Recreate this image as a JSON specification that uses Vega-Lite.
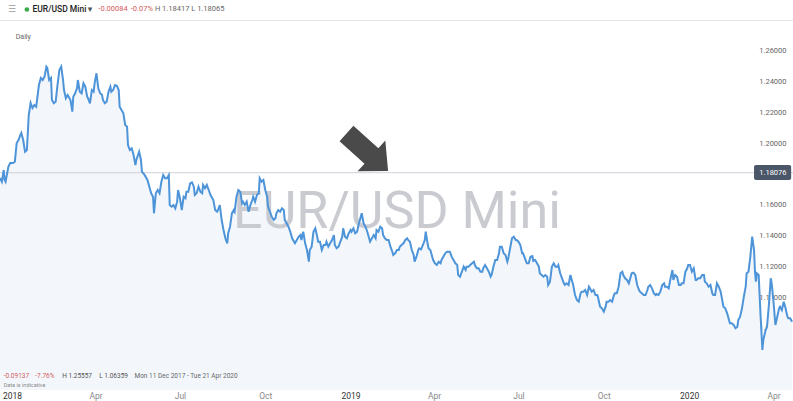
{
"$schema": "https://vega.github.io/schema/vega-lite/v6.json",
"width": 793, "height": 368,
"autosize": {"type": "none"},
"padding": {"top": 22, "bottom": 11, "left": 0, "right": 0},
"background": "#ffffff",
"config": {"view": {"stroke": null}, "font": "Roboto"},
"datasets": {"px": [
{"d":"2017-12-19","v":1.17734},{"d":"2017-12-21","v":1.17493},{"d":"2017-12-23","v":1.18253},{"d":"2017-12-24","v":1.17604},{"d":"2017-12-25","v":1.17493},{"d":"2017-12-28","v":1.18467},{"d":"2017-12-30","v":1.18708},{"d":"2018-01-02","v":1.18708},{"d":"2018-01-04","v":1.18792},{"d":"2018-01-06","v":1.20006},{"d":"2018-01-08","v":1.20201},{"d":"2018-01-10","v":1.20526},{"d":"2018-01-11","v":1.20656},{"d":"2018-01-13","v":1.20201},{"d":"2018-01-15","v":1.19441},{"d":"2018-01-17","v":1.19552},{"d":"2018-01-19","v":1.21824},{"d":"2018-01-21","v":1.22604},{"d":"2018-01-23","v":1.22279},{"d":"2018-01-25","v":1.22474},{"d":"2018-01-27","v":1.22363},{"d":"2018-01-28","v":1.22799},{"d":"2018-01-30","v":1.23772},{"d":"2018-02-01","v":1.24227},{"d":"2018-02-03","v":1.24097},{"d":"2018-02-05","v":1.24311},{"d":"2018-02-07","v":1.24961},{"d":"2018-02-08","v":1.24876},{"d":"2018-02-10","v":1.24097},{"d":"2018-02-12","v":1.24227},{"d":"2018-02-13","v":1.22799},{"d":"2018-02-15","v":1.22584},{"d":"2018-02-17","v":1.22688},{"d":"2018-02-19","v":1.23772},{"d":"2018-02-21","v":1.24747},{"d":"2018-02-23","v":1.24961},{"d":"2018-02-25","v":1.24097},{"d":"2018-02-26","v":1.23448},{"d":"2018-02-28","v":1.22909},{"d":"2018-03-02","v":1.23123},{"d":"2018-03-03","v":1.23013},{"d":"2018-03-05","v":1.22799},{"d":"2018-03-07","v":1.22039},{"d":"2018-03-08","v":1.23013},{"d":"2018-03-10","v":1.23234},{"d":"2018-03-12","v":1.23558},{"d":"2018-03-13","v":1.24097},{"d":"2018-03-15","v":1.23337},{"d":"2018-03-17","v":1.23234},{"d":"2018-03-19","v":1.23883},{"d":"2018-03-21","v":1.23662},{"d":"2018-03-23","v":1.23013},{"d":"2018-03-24","v":1.22909},{"d":"2018-03-26","v":1.22584},{"d":"2018-03-28","v":1.23448},{"d":"2018-03-30","v":1.23337},{"d":"2018-03-31","v":1.23883},{"d":"2018-04-02","v":1.24532},{"d":"2018-04-04","v":1.23558},{"d":"2018-04-06","v":1.23234},{"d":"2018-04-08","v":1.23123},{"d":"2018-04-09","v":1.22799},{"d":"2018-04-11","v":1.22584},{"d":"2018-04-13","v":1.22688},{"d":"2018-04-15","v":1.23337},{"d":"2018-04-17","v":1.23662},{"d":"2018-04-18","v":1.23337},{"d":"2018-04-20","v":1.23448},{"d":"2018-04-22","v":1.23772},{"d":"2018-04-24","v":1.23727},{"d":"2018-04-26","v":1.23448},{"d":"2018-04-27","v":1.22363},{"d":"2018-04-29","v":1.22149},{"d":"2018-05-01","v":1.21935},{"d":"2018-05-03","v":1.21175},{"d":"2018-05-05","v":1.21065},{"d":"2018-05-06","v":1.19876},{"d":"2018-05-08","v":1.19552},{"d":"2018-05-10","v":1.19662},{"d":"2018-05-12","v":1.19227},{"d":"2018-05-14","v":1.18578},{"d":"2018-05-15","v":1.18902},{"d":"2018-05-18","v":1.19441},{"d":"2018-05-20","v":1.18902},{"d":"2018-05-21","v":1.18143},{"d":"2018-05-24","v":1.17928},{"d":"2018-05-25","v":1.17818},{"d":"2018-05-27","v":1.17604},{"d":"2018-05-29","v":1.17169},{"d":"2018-05-31","v":1.1674},{"d":"2018-06-02","v":1.16519},{"d":"2018-06-03","v":1.15441},{"d":"2018-06-05","v":1.1674},{"d":"2018-06-07","v":1.16954},{"d":"2018-06-09","v":1.1674},{"d":"2018-06-11","v":1.17493},{"d":"2018-06-13","v":1.17928},{"d":"2018-06-15","v":1.17714},{"d":"2018-06-17","v":1.17714},{"d":"2018-06-19","v":1.17928},{"d":"2018-06-20","v":1.1598},{"d":"2018-06-22","v":1.1587},{"d":"2018-06-24","v":1.1598},{"d":"2018-06-26","v":1.15766},{"d":"2018-06-28","v":1.16195},{"d":"2018-06-29","v":1.16954},{"d":"2018-07-01","v":1.16415},{"d":"2018-07-03","v":1.15656},{"d":"2018-07-05","v":1.16519},{"d":"2018-07-07","v":1.16415},{"d":"2018-07-08","v":1.16844},{"d":"2018-07-10","v":1.16844},{"d":"2018-07-12","v":1.17389},{"d":"2018-07-14","v":1.17454},{"d":"2018-07-16","v":1.17169},{"d":"2018-07-17","v":1.1663},{"d":"2018-07-19","v":1.1674},{"d":"2018-07-21","v":1.17169},{"d":"2018-07-23","v":1.16844},{"d":"2018-07-25","v":1.1674},{"d":"2018-07-26","v":1.17279},{"d":"2018-07-28","v":1.17065},{"d":"2018-07-30","v":1.17279},{"d":"2018-08-01","v":1.16954},{"d":"2018-08-03","v":1.1663},{"d":"2018-08-04","v":1.16519},{"d":"2018-08-06","v":1.16305},{"d":"2018-08-08","v":1.15656},{"d":"2018-08-10","v":1.15545},{"d":"2018-08-11","v":1.15656},{"d":"2018-08-13","v":1.1598},{"d":"2018-08-15","v":1.15006},{"d":"2018-08-17","v":1.14357},{"d":"2018-08-19","v":1.13818},{"d":"2018-08-21","v":1.13493},{"d":"2018-08-22","v":1.14143},{"d":"2018-08-24","v":1.14571},{"d":"2018-08-26","v":1.15441},{"d":"2018-08-28","v":1.15656},{"d":"2018-08-29","v":1.15545},{"d":"2018-08-31","v":1.16519},{"d":"2018-09-02","v":1.16954},{"d":"2018-09-04","v":1.16844},{"d":"2018-09-06","v":1.16091},{"d":"2018-09-07","v":1.16195},{"d":"2018-09-09","v":1.1598},{"d":"2018-09-11","v":1.16195},{"d":"2018-09-13","v":1.15545},{"d":"2018-09-15","v":1.1598},{"d":"2018-09-17","v":1.16305},{"d":"2018-09-18","v":1.16519},{"d":"2018-09-20","v":1.16195},{"d":"2018-09-22","v":1.1663},{"d":"2018-09-24","v":1.1674},{"d":"2018-09-25","v":1.17714},{"d":"2018-09-27","v":1.17493},{"d":"2018-09-29","v":1.17604},{"d":"2018-10-01","v":1.16954},{"d":"2018-10-03","v":1.16519},{"d":"2018-10-04","v":1.1587},{"d":"2018-10-06","v":1.15545},{"d":"2018-10-08","v":1.15221},{"d":"2018-10-10","v":1.15006},{"d":"2018-10-12","v":1.15117},{"d":"2018-10-13","v":1.15441},{"d":"2018-10-15","v":1.15656},{"d":"2018-10-17","v":1.15545},{"d":"2018-10-19","v":1.15766},{"d":"2018-10-21","v":1.15656},{"d":"2018-10-22","v":1.15006},{"d":"2018-10-24","v":1.14792},{"d":"2018-10-26","v":1.14571},{"d":"2018-10-28","v":1.14247},{"d":"2018-10-30","v":1.13818},{"d":"2018-10-31","v":1.13708},{"d":"2018-11-02","v":1.13493},{"d":"2018-11-04","v":1.13708},{"d":"2018-11-06","v":1.13922},{"d":"2018-11-08","v":1.14032},{"d":"2018-11-09","v":1.13708},{"d":"2018-11-11","v":1.14247},{"d":"2018-11-13","v":1.13493},{"d":"2018-11-15","v":1.13058},{"d":"2018-11-17","v":1.12298},{"d":"2018-11-18","v":1.13058},{"d":"2018-11-20","v":1.13273},{"d":"2018-11-22","v":1.14247},{"d":"2018-11-24","v":1.14467},{"d":"2018-11-26","v":1.13922},{"d":"2018-11-27","v":1.13597},{"d":"2018-11-29","v":1.13597},{"d":"2018-12-01","v":1.13058},{"d":"2018-12-03","v":1.13383},{"d":"2018-12-05","v":1.13383},{"d":"2018-12-06","v":1.13597},{"d":"2018-12-08","v":1.13273},{"d":"2018-12-10","v":1.13493},{"d":"2018-12-12","v":1.13708},{"d":"2018-12-14","v":1.14032},{"d":"2018-12-15","v":1.13383},{"d":"2018-12-17","v":1.13168},{"d":"2018-12-19","v":1.13273},{"d":"2018-12-21","v":1.13597},{"d":"2018-12-23","v":1.13922},{"d":"2018-12-24","v":1.14467},{"d":"2018-12-26","v":1.13922},{"d":"2018-12-28","v":1.13818},{"d":"2018-12-30","v":1.14143},{"d":"2019-01-01","v":1.14357},{"d":"2019-01-02","v":1.14247},{"d":"2019-01-04","v":1.14467},{"d":"2019-01-06","v":1.14143},{"d":"2019-01-08","v":1.14247},{"d":"2019-01-10","v":1.14792},{"d":"2019-01-11","v":1.15006},{"d":"2019-01-13","v":1.15441},{"d":"2019-01-15","v":1.14792},{"d":"2019-01-17","v":1.14571},{"d":"2019-01-19","v":1.14247},{"d":"2019-01-20","v":1.14032},{"d":"2019-01-22","v":1.13597},{"d":"2019-01-24","v":1.13818},{"d":"2019-01-26","v":1.14032},{"d":"2019-01-28","v":1.13818},{"d":"2019-01-29","v":1.14357},{"d":"2019-01-31","v":1.14247},{"d":"2019-02-02","v":1.14571},{"d":"2019-02-04","v":1.14467},{"d":"2019-02-05","v":1.14032},{"d":"2019-02-07","v":1.13818},{"d":"2019-02-09","v":1.13708},{"d":"2019-02-11","v":1.13708},{"d":"2019-02-13","v":1.13273},{"d":"2019-02-15","v":1.12948},{"d":"2019-02-16","v":1.12734},{"d":"2019-02-18","v":1.12844},{"d":"2019-02-20","v":1.13058},{"d":"2019-02-22","v":1.13058},{"d":"2019-02-23","v":1.13273},{"d":"2019-02-25","v":1.13383},{"d":"2019-02-27","v":1.13493},{"d":"2019-03-01","v":1.13708},{"d":"2019-03-03","v":1.13818},{"d":"2019-03-04","v":1.13708},{"d":"2019-03-06","v":1.13597},{"d":"2019-03-08","v":1.13058},{"d":"2019-03-10","v":1.12734},{"d":"2019-03-11","v":1.12298},{"d":"2019-03-13","v":1.12623},{"d":"2019-03-15","v":1.13058},{"d":"2019-03-16","v":1.13168},{"d":"2019-03-18","v":1.13104},{"d":"2019-03-20","v":1.13383},{"d":"2019-03-22","v":1.13708},{"d":"2019-03-23","v":1.14247},{"d":"2019-03-25","v":1.13493},{"d":"2019-03-26","v":1.13168},{"d":"2019-03-28","v":1.13058},{"d":"2019-03-30","v":1.12623},{"d":"2019-03-31","v":1.12409},{"d":"2019-04-02","v":1.12195},{"d":"2019-04-04","v":1.12084},{"d":"2019-04-06","v":1.12298},{"d":"2019-04-08","v":1.12195},{"d":"2019-04-09","v":1.12409},{"d":"2019-04-11","v":1.12623},{"d":"2019-04-13","v":1.12844},{"d":"2019-04-15","v":1.12948},{"d":"2019-04-17","v":1.12948},{"d":"2019-04-18","v":1.12948},{"d":"2019-04-20","v":1.12623},{"d":"2019-04-22","v":1.12409},{"d":"2019-04-24","v":1.12195},{"d":"2019-04-26","v":1.12084},{"d":"2019-04-27","v":1.11435},{"d":"2019-04-29","v":1.11325},{"d":"2019-05-01","v":1.11649},{"d":"2019-05-03","v":1.11974},{"d":"2019-05-05","v":1.1176},{"d":"2019-05-06","v":1.11974},{"d":"2019-05-08","v":1.11974},{"d":"2019-05-10","v":1.12084},{"d":"2019-05-12","v":1.12195},{"d":"2019-05-14","v":1.12298},{"d":"2019-05-15","v":1.12084},{"d":"2019-05-17","v":1.1187},{"d":"2019-05-19","v":1.1187},{"d":"2019-05-21","v":1.11649},{"d":"2019-05-23","v":1.11649},{"d":"2019-05-24","v":1.1187},{"d":"2019-05-26","v":1.12084},{"d":"2019-05-28","v":1.1187},{"d":"2019-05-30","v":1.11649},{"d":"2019-06-01","v":1.11325},{"d":"2019-06-02","v":1.11435},{"d":"2019-06-04","v":1.11974},{"d":"2019-06-06","v":1.12409},{"d":"2019-06-08","v":1.12409},{"d":"2019-06-10","v":1.12844},{"d":"2019-06-11","v":1.13273},{"d":"2019-06-13","v":1.13273},{"d":"2019-06-15","v":1.12844},{"d":"2019-06-17","v":1.12734},{"d":"2019-06-19","v":1.12298},{"d":"2019-06-20","v":1.12519},{"d":"2019-06-22","v":1.13168},{"d":"2019-06-24","v":1.13818},{"d":"2019-06-26","v":1.13922},{"d":"2019-06-28","v":1.13708},{"d":"2019-06-29","v":1.13708},{"d":"2019-07-01","v":1.13597},{"d":"2019-07-03","v":1.13383},{"d":"2019-07-05","v":1.12844},{"d":"2019-07-06","v":1.12844},{"d":"2019-07-08","v":1.12519},{"d":"2019-07-10","v":1.12195},{"d":"2019-07-12","v":1.12195},{"d":"2019-07-14","v":1.12623},{"d":"2019-07-16","v":1.12669},{"d":"2019-07-17","v":1.12344},{"d":"2019-07-19","v":1.12409},{"d":"2019-07-21","v":1.12195},{"d":"2019-07-23","v":1.11974},{"d":"2019-07-24","v":1.11545},{"d":"2019-07-26","v":1.11435},{"d":"2019-07-28","v":1.11325},{"d":"2019-07-30","v":1.11435},{"d":"2019-08-01","v":1.11325},{"d":"2019-08-02","v":1.10786},{"d":"2019-08-04","v":1.11},{"d":"2019-08-06","v":1.11974},{"d":"2019-08-08","v":1.12195},{"d":"2019-08-10","v":1.11974},{"d":"2019-08-12","v":1.11974},{"d":"2019-08-13","v":1.12084},{"d":"2019-08-15","v":1.11545},{"d":"2019-08-17","v":1.1122},{"d":"2019-08-19","v":1.10896},{"d":"2019-08-20","v":1.10786},{"d":"2019-08-22","v":1.10896},{"d":"2019-08-24","v":1.10786},{"d":"2019-08-26","v":1.11435},{"d":"2019-08-28","v":1.11},{"d":"2019-08-29","v":1.10786},{"d":"2019-08-31","v":1.10136},{"d":"2019-09-02","v":1.09811},{"d":"2019-09-04","v":1.09701},{"d":"2019-09-06","v":1.10246},{"d":"2019-09-07","v":1.1035},{"d":"2019-09-09","v":1.1035},{"d":"2019-09-11","v":1.10461},{"d":"2019-09-13","v":1.10136},{"d":"2019-09-15","v":1.10675},{"d":"2019-09-16","v":1.10571},{"d":"2019-09-18","v":1.1035},{"d":"2019-09-20","v":1.10461},{"d":"2019-09-22","v":1.10136},{"d":"2019-09-24","v":1.10136},{"d":"2019-09-25","v":1.09922},{"d":"2019-09-27","v":1.09377},{"d":"2019-09-29","v":1.09273},{"d":"2019-10-01","v":1.09052},{"d":"2019-10-03","v":1.09377},{"d":"2019-10-04","v":1.09701},{"d":"2019-10-06","v":1.09701},{"d":"2019-10-08","v":1.09811},{"d":"2019-10-10","v":1.09701},{"d":"2019-10-12","v":1.10136},{"d":"2019-10-13","v":1.10246},{"d":"2019-10-15","v":1.10246},{"d":"2019-10-17","v":1.10675},{"d":"2019-10-19","v":1.11545},{"d":"2019-10-21","v":1.11649},{"d":"2019-10-22","v":1.11435},{"d":"2019-10-24","v":1.1122},{"d":"2019-10-26","v":1.1111},{"d":"2019-10-28","v":1.10896},{"d":"2019-10-30","v":1.11325},{"d":"2019-10-31","v":1.11545},{"d":"2019-11-02","v":1.11584},{"d":"2019-11-04","v":1.11435},{"d":"2019-11-06","v":1.10786},{"d":"2019-11-08","v":1.10461},{"d":"2019-11-09","v":1.1035},{"d":"2019-11-11","v":1.10246},{"d":"2019-11-13","v":1.10136},{"d":"2019-11-15","v":1.10136},{"d":"2019-11-17","v":1.10461},{"d":"2019-11-18","v":1.10675},{"d":"2019-11-20","v":1.10786},{"d":"2019-11-22","v":1.10571},{"d":"2019-11-24","v":1.10246},{"d":"2019-11-26","v":1.10136},{"d":"2019-11-27","v":1.10201},{"d":"2019-11-29","v":1.10136},{"d":"2019-12-01","v":1.1035},{"d":"2019-12-03","v":1.10786},{"d":"2019-12-05","v":1.10896},{"d":"2019-12-06","v":1.10675},{"d":"2019-12-08","v":1.10675},{"d":"2019-12-10","v":1.10571},{"d":"2019-12-12","v":1.1122},{"d":"2019-12-14","v":1.1176},{"d":"2019-12-15","v":1.1111},{"d":"2019-12-17","v":1.11435},{"d":"2019-12-19","v":1.11325},{"d":"2019-12-21","v":1.10786},{"d":"2019-12-23","v":1.10786},{"d":"2019-12-24","v":1.10896},{"d":"2019-12-26","v":1.10896},{"d":"2019-12-28","v":1.11649},{"d":"2019-12-30","v":1.1187},{"d":"2019-12-31","v":1.12084},{"d":"2020-01-02","v":1.12084},{"d":"2020-01-04","v":1.11649},{"d":"2020-01-06","v":1.1187},{"d":"2020-01-08","v":1.1111},{"d":"2020-01-09","v":1.1111},{"d":"2020-01-11","v":1.1122},{"d":"2020-01-13","v":1.1122},{"d":"2020-01-15","v":1.11435},{"d":"2020-01-17","v":1.11435},{"d":"2020-01-18","v":1.11},{"d":"2020-01-20","v":1.10896},{"d":"2020-01-22","v":1.10675},{"d":"2020-01-24","v":1.10786},{"d":"2020-01-26","v":1.10246},{"d":"2020-01-27","v":1.10136},{"d":"2020-01-29","v":1.10136},{"d":"2020-01-31","v":1.10896},{"d":"2020-02-02","v":1.10675},{"d":"2020-02-04","v":1.1035},{"d":"2020-02-05","v":1.10026},{"d":"2020-02-07","v":1.09377},{"d":"2020-02-09","v":1.09273},{"d":"2020-02-11","v":1.08948},{"d":"2020-02-13","v":1.08513},{"d":"2020-02-14","v":1.08298},{"d":"2020-02-16","v":1.08298},{"d":"2020-02-18","v":1.08188},{"d":"2020-02-20","v":1.07974},{"d":"2020-02-22","v":1.08078},{"d":"2020-02-23","v":1.08513},{"d":"2020-02-25","v":1.08727},{"d":"2020-02-27","v":1.09273},{"d":"2020-02-29","v":1.10026},{"d":"2020-03-02","v":1.10675},{"d":"2020-03-03","v":1.11545},{"d":"2020-03-05","v":1.11649},{"d":"2020-03-07","v":1.12623},{"d":"2020-03-09","v":1.13922},{"d":"2020-03-11","v":1.13058},{"d":"2020-03-12","v":1.11649},{"d":"2020-03-13","v":1.11},{"d":"2020-03-14","v":1.11545},{"d":"2020-03-16","v":1.11435},{"d":"2020-03-18","v":1.08837},{"d":"2020-03-20","v":1.06565},{"d":"2020-03-21","v":1.07214},{"d":"2020-03-23","v":1.07753},{"d":"2020-03-25","v":1.08078},{"d":"2020-03-27","v":1.09487},{"d":"2020-03-29","v":1.1122},{"d":"2020-03-30","v":1.10896},{"d":"2020-04-01","v":1.09701},{"d":"2020-04-03","v":1.08188},{"d":"2020-04-05","v":1.08727},{"d":"2020-04-07","v":1.09273},{"d":"2020-04-08","v":1.09377},{"d":"2020-04-10","v":1.09162},{"d":"2020-04-12","v":1.09701},{"d":"2020-04-14","v":1.09273},{"d":"2020-04-16","v":1.08727},{"d":"2020-04-17","v":1.08623},{"d":"2020-04-19","v":1.08623},{"d":"2020-04-21","v":1.08402}
]},
"data": {"name": "px"},
"layer": [
{"mark": {"type": "area", "color": "#f3f7fc", "opacity": 1},
 "encoding": {
  "x": {"field": "d", "type": "temporal",
   "scale": {"type": "utc", "domain": [{"year": 2017, "month": 12, "date": 19, "utc": true}, {"year": 2020, "month": 4, "date": 22, "utc": true}]},
   "axis": {"title": null, "orient": "bottom", "domain": false, "ticks": false, "grid": false,
    "values": [{"year": 2018, "month": 1, "date": 1, "utc": true}, {"year": 2018, "month": 4, "date": 1, "utc": true}, {"year": 2018, "month": 7, "date": 1, "utc": true}, {"year": 2018, "month": 10, "date": 1, "utc": true}, {"year": 2019, "month": 1, "date": 1, "utc": true}, {"year": 2019, "month": 4, "date": 1, "utc": true}, {"year": 2019, "month": 7, "date": 1, "utc": true}, {"year": 2019, "month": 10, "date": 1, "utc": true}, {"year": 2020, "month": 1, "date": 1, "utc": true}, {"year": 2020, "month": 4, "date": 1, "utc": true}],
    "labelExpr": "utcmonth(datum.value) == 0 ? utcFormat(datum.value, '%Y') : utcFormat(datum.value, '%b')",
    "labelColor": {"condition": {"test": "utcmonth(datum.value) == 0", "value": "#333333"}, "value": "#8a8a8a"},
    "labelFont": "Roboto", "labelFontSize": 8.5, "labelPadding": 1, "labelFlush": false, "labelBound": false, "labelOverlap": false}},
  "y": {"field": "v", "type": "quantitative",
   "scale": {"domain": [1.03967, 1.27863], "nice": false, "zero": false},
   "axis": {"title": null, "orient": "right", "domain": false, "ticks": false, "grid": false,
    "values": [1.06, 1.08, 1.10, 1.12, 1.14, 1.16, 1.20, 1.22, 1.24, 1.26],
    "format": ".5f", "labelAlign": "right", "labelPadding": -7, "labelBaseline": "middle",
    "labelFont": "Roboto", "labelFontSize": 7.5, "labelColor": "#666666", "labelFlush": false, "labelBound": false, "labelOverlap": false}},
  "y2": {"datum": 1.03967}
 }},
{"data": {"values": [{}]},
 "mark": {"type": "rule", "color": "#cdd1d7", "strokeWidth": 1},
 "encoding": {"y": {"datum": 1.18076, "type": "quantitative"}}},
{"data": {"values": [{}]},
 "mark": {"type": "text", "text": "EUR/USD Mini", "font": "Roboto", "fontSize": 52, "fontWeight": 400, "color": "#c9cbd0", "align": "center", "baseline": "alphabetic"},
 "encoding": {"x": {"datum": {"year": 2019, "month": 2, "date": 20, "utc": true}, "type": "temporal"}, "y": {"datum": 1.14487, "type": "quantitative"}}},
{"mark": {"type": "line", "color": "#4d94d9", "strokeWidth": 2},
 "encoding": {"x": {"field": "d", "type": "temporal"}, "y": {"field": "v", "type": "quantitative"}}},
{"data": {"values": [{}]},
 "mark": {"type": "point", "shape": "M-1,-0.37L0.2,-0.37L0.2,-0.74L1,0L0.2,0.74L0.2,0.37L-1,0.37Z", "filled": true, "size": 3136, "angle": 42, "color": "#4a4a4a", "opacity": 1, "strokeWidth": 0},
 "encoding": {"x": {"datum": {"year": 2019, "month": 1, "date": 19, "utc": true}, "type": "temporal"}, "y": {"datum": 1.19409, "type": "quantitative"}}},
{"data": {"values": [{}]},
 "mark": {"type": "rect", "color": "#4b5668", "cornerRadius": 2},
 "encoding": {"x": {"datum": {"year": 2020, "month": 3, "date": 11, "utc": true}, "type": "temporal"}, "x2": {"datum": {"year": 2020, "month": 4, "date": 20, "utc": true}}, "y": {"datum": 1.18578, "type": "quantitative"}, "y2": {"datum": 1.17604}}},
{"data": {"values": [{}]},
 "mark": {"type": "text", "text": "1.18076", "font": "Roboto", "fontSize": 7.5, "color": "#ffffff", "align": "right", "baseline": "middle"},
 "encoding": {"x": {"datum": {"year": 2020, "month": 4, "date": 15, "utc": true}, "type": "temporal"}, "y": {"datum": 1.18076, "type": "quantitative"}}},
{"data": {"values": [{}]},
 "mark": {"type": "rule", "color": "#e3e3e3", "strokeWidth": 1},
 "encoding": {"y": {"datum": 1.27961, "type": "quantitative"}}},
{"data": {"values": [{}]},
 "mark": {"type": "text", "text": "☰", "font": "DejaVu Sans", "fontSize": 9, "color": "#9a9a9a", "align": "center", "baseline": "middle"},
 "encoding": {"x": {"datum": {"year": 2018, "month": 1, "date": 1, "utc": true}, "type": "temporal"}, "y": {"datum": 1.28675, "type": "quantitative"}}},
{"data": {"values": [{}]},
 "mark": {"type": "point", "shape": "circle", "filled": true, "size": 22, "color": "#3aaa4a", "opacity": 1},
 "encoding": {"x": {"datum": {"year": 2018, "month": 1, "date": 17, "utc": true}, "type": "temporal"}, "y": {"datum": 1.28675, "type": "quantitative"}}},
{"data": {"values": [{}]},
 "mark": {"type": "text", "text": "EUR/USD Mini", "font": "Roboto", "fontSize": 8.5, "fontWeight": 500, "color": "#222222", "align": "left", "baseline": "middle"},
 "encoding": {"x": {"datum": {"year": 2018, "month": 1, "date": 23, "utc": true}, "type": "temporal"}, "y": {"datum": 1.28675, "type": "quantitative"}}},
{"data": {"values": [{}]},
 "mark": {"type": "text", "text": "▾", "font": "DejaVu Sans", "fontSize": 9, "color": "#555555", "align": "center", "baseline": "middle"},
 "encoding": {"x": {"datum": {"year": 2018, "month": 3, "date": 26, "utc": true}, "type": "temporal"}, "y": {"datum": 1.28675, "type": "quantitative"}}},
{"data": {"values": [{}]},
 "mark": {"type": "text", "text": "-0.00084", "font": "Roboto", "fontSize": 7.5, "color": "#d45a5a", "align": "left", "baseline": "middle"},
 "encoding": {"x": {"datum": {"year": 2018, "month": 4, "date": 4, "utc": true}, "type": "temporal"}, "y": {"datum": 1.28675, "type": "quantitative"}}},
{"data": {"values": [{}]},
 "mark": {"type": "text", "text": "-0.07%", "font": "Roboto", "fontSize": 7.5, "color": "#d45a5a", "align": "left", "baseline": "middle"},
 "encoding": {"x": {"datum": {"year": 2018, "month": 5, "date": 9, "utc": true}, "type": "temporal"}, "y": {"datum": 1.28675, "type": "quantitative"}}},
{"data": {"values": [{}]},
 "mark": {"type": "text", "text": "H 1.18417  L 1.18065", "font": "Roboto", "fontSize": 7.5, "color": "#666666", "align": "left", "baseline": "middle"},
 "encoding": {"x": {"datum": {"year": 2018, "month": 6, "date": 4, "utc": true}, "type": "temporal"}, "y": {"datum": 1.28675, "type": "quantitative"}}},
{"data": {"values": [{}]},
 "mark": {"type": "text", "text": "Daily", "font": "Roboto", "fontSize": 7, "color": "#666666", "align": "left", "baseline": "middle"},
 "encoding": {"x": {"datum": {"year": 2018, "month": 1, "date": 5, "utc": true}, "type": "temporal"}, "y": {"datum": 1.26889, "type": "quantitative"}}},
{"data": {"values": [{}]},
 "mark": {"type": "text", "text": "-0.09137", "font": "Roboto", "fontSize": 6.5, "color": "#d45a5a", "align": "left", "baseline": "middle"},
 "encoding": {"x": {"datum": {"year": 2017, "month": 12, "date": 23, "utc": true}, "type": "temporal"}, "y": {"datum": 1.04876, "type": "quantitative"}}},
{"data": {"values": [{}]},
 "mark": {"type": "text", "text": "-7.76%", "font": "Roboto", "fontSize": 6.5, "color": "#d45a5a", "align": "left", "baseline": "middle"},
 "encoding": {"x": {"datum": {"year": 2018, "month": 1, "date": 26, "utc": true}, "type": "temporal"}, "y": {"datum": 1.04876, "type": "quantitative"}}},
{"data": {"values": [{}]},
 "mark": {"type": "text", "text": "H 1.25557", "font": "Roboto", "fontSize": 6.5, "color": "#555555", "align": "left", "baseline": "middle"},
 "encoding": {"x": {"datum": {"year": 2018, "month": 2, "date": 24, "utc": true}, "type": "temporal"}, "y": {"datum": 1.04876, "type": "quantitative"}}},
{"data": {"values": [{}]},
 "mark": {"type": "text", "text": "L 1.06359", "font": "Roboto", "fontSize": 6.5, "color": "#555555", "align": "left", "baseline": "middle"},
 "encoding": {"x": {"datum": {"year": 2018, "month": 4, "date": 5, "utc": true}, "type": "temporal"}, "y": {"datum": 1.04876, "type": "quantitative"}}},
{"data": {"values": [{}]},
 "mark": {"type": "text", "text": "Mon 11 Dec 2017 - Tue 21 Apr 2020", "font": "Roboto", "fontSize": 6.5, "color": "#666666", "align": "left", "baseline": "middle"},
 "encoding": {"x": {"datum": {"year": 2018, "month": 5, "date": 13, "utc": true}, "type": "temporal"}, "y": {"datum": 1.04876, "type": "quantitative"}}},
{"data": {"values": [{}]},
 "mark": {"type": "text", "text": "Data is indicative", "font": "Roboto", "fontSize": 5.5, "color": "#888888", "align": "left", "baseline": "middle"},
 "encoding": {"x": {"datum": {"year": 2017, "month": 12, "date": 23, "utc": true}, "type": "temporal"}, "y": {"datum": 1.04292, "type": "quantitative"}}}
]
}
